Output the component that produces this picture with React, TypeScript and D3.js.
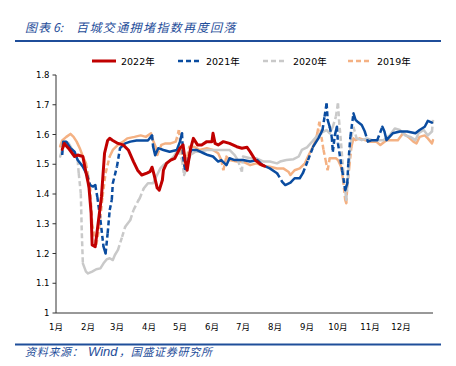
import React from "react";
import * as d3 from "d3";

const monthLabels = ["1月", "2月", "3月", "4月", "5月", "6月", "7月", "8月", "9月", "10月", "11月", "12月"];
const monthStartDays = [0, 31, 59, 90, 120, 151, 181, 212, 243, 273, 304, 334];
const yTicks = [1, 1.1, 1.2, 1.3, 1.4, 1.5, 1.6, 1.7, 1.8];
const seriesNames = ["2022年", "2021年", "2020年", "2019年"];

// [day of year, index]
const y2022: [number, number][] = [
  [6, 1.55], [8, 1.57], [12, 1.554], [18, 1.526], [21, 1.531], [26, 1.526], [28, 1.49], [31, 1.44], [32, 1.42], [34, 1.336],
  [35, 1.229], [38, 1.223], [40, 1.279], [44, 1.39], [47, 1.537], [50, 1.58], [52, 1.587], [55, 1.58], [60, 1.57], [65, 1.565],
  [70, 1.548], [75, 1.509], [79, 1.48], [83, 1.464], [88, 1.47], [91, 1.475], [93, 1.49], [95, 1.464], [98, 1.42], [100, 1.413],
  [103, 1.447], [104, 1.48], [107, 1.503], [111, 1.514], [115, 1.52], [120, 1.554], [123, 1.565], [125, 1.514], [127, 1.48], [130, 1.548],
  [133, 1.587], [137, 1.565], [141, 1.565], [146, 1.576], [151, 1.576], [152, 1.604], [154, 1.57], [157, 1.565], [162, 1.576], [168, 1.57],
  [175, 1.559], [180, 1.554], [185, 1.557], [188, 1.542], [193, 1.514], [198, 1.5], [202, 1.494],
];

const y2021: [number, number][] = [
  [6, 1.531], [7, 1.576], [10, 1.576], [14, 1.554], [18, 1.542], [21, 1.514], [26, 1.492], [30, 1.464], [33, 1.43], [36, 1.425],
  [38, 1.43], [40, 1.39], [43, 1.313], [46, 1.223], [48, 1.2], [50, 1.268], [52, 1.346], [54, 1.38], [55, 1.436], [59, 1.492],
  [62, 1.554], [67, 1.57], [72, 1.576], [78, 1.58], [85, 1.58], [89, 1.58], [93, 1.597], [94, 1.56], [96, 1.53], [99, 1.554],
  [104, 1.548], [110, 1.542], [117, 1.548], [120, 1.576], [122, 1.604], [123, 1.526], [125, 1.48], [128, 1.514], [131, 1.548], [136, 1.548],
  [143, 1.537], [147, 1.531], [152, 1.526], [157, 1.509], [160, 1.514], [165, 1.497], [168, 1.52], [173, 1.514], [181, 1.514], [188, 1.509],
  [195, 1.514], [200, 1.497], [207, 1.486], [214, 1.47], [219, 1.441], [222, 1.43], [227, 1.438], [231, 1.453], [236, 1.453], [239, 1.47],
  [244, 1.514], [249, 1.559], [254, 1.587], [258, 1.615], [260, 1.66], [262, 1.705], [263, 1.649], [265, 1.626], [267, 1.592], [268, 1.542],
  [270, 1.598], [272, 1.626], [273, 1.57], [277, 1.48], [280, 1.413], [282, 1.436], [283, 1.503], [285, 1.592], [288, 1.671], [290, 1.649],
  [292, 1.643], [296, 1.632], [299, 1.61], [302, 1.576], [306, 1.581], [311, 1.581], [316, 1.626], [318, 1.61], [320, 1.581], [326, 1.604],
  [333, 1.61], [340, 1.61], [348, 1.604], [352, 1.615], [357, 1.626], [360, 1.646], [364, 1.64],
];

const y2020: [number, number][] = [
  [4, 1.526], [6, 1.548], [9, 1.576], [12, 1.572], [15, 1.554], [18, 1.537], [21, 1.514], [22, 1.47], [24, 1.402], [25, 1.268],
  [26, 1.167], [29, 1.139], [31, 1.133], [35, 1.139], [39, 1.147], [43, 1.15], [46, 1.167], [49, 1.18], [52, 1.184], [55, 1.178],
  [57, 1.195], [60, 1.212], [64, 1.256], [67, 1.29], [72, 1.313], [75, 1.346], [80, 1.38], [81, 1.385], [85, 1.419], [89, 1.436],
  [94, 1.436], [97, 1.458], [101, 1.486], [104, 1.497], [109, 1.509], [114, 1.526], [118, 1.548], [122, 1.514], [124, 1.464], [127, 1.492],
  [130, 1.531], [135, 1.542], [139, 1.542], [146, 1.548], [152, 1.548], [159, 1.548], [165, 1.548], [168, 1.548], [173, 1.531], [176, 1.514],
  [180, 1.475], [181, 1.526], [188, 1.52], [194, 1.52], [201, 1.509], [207, 1.509], [214, 1.503], [217, 1.509], [223, 1.514], [230, 1.517],
  [235, 1.526], [238, 1.548], [243, 1.557], [248, 1.576], [252, 1.592], [257, 1.606], [262, 1.615], [265, 1.604], [268, 1.626], [271, 1.66],
  [273, 1.705], [274, 1.649], [276, 1.57], [278, 1.48], [280, 1.413], [281, 1.38], [282, 1.425], [284, 1.514], [286, 1.592], [288, 1.626],
  [291, 1.587], [296, 1.581], [301, 1.587], [306, 1.581], [310, 1.581], [317, 1.581], [323, 1.597], [328, 1.62], [333, 1.615], [338, 1.597],
  [343, 1.592], [348, 1.581], [351, 1.604], [356, 1.615], [360, 1.597], [364, 1.61], [365, 1.649],
];

const y2019: [number, number][] = [
  [4, 1.56], [6, 1.58], [10, 1.592], [14, 1.602], [17, 1.592], [20, 1.576], [23, 1.554], [26, 1.526], [29, 1.503], [31, 1.464],
  [33, 1.425], [35, 1.3], [39, 1.229], [42, 1.29], [45, 1.39], [48, 1.47], [52, 1.526], [55, 1.548], [60, 1.565], [65, 1.576],
  [69, 1.587], [76, 1.592], [82, 1.597], [87, 1.592], [92, 1.604], [94, 1.58], [97, 1.554], [98, 1.531], [102, 1.565], [106, 1.57],
  [111, 1.57], [116, 1.576], [119, 1.615], [121, 1.548], [124, 1.492], [127, 1.526], [129, 1.559], [134, 1.559], [139, 1.548], [146, 1.554],
  [152, 1.548], [157, 1.537], [160, 1.514], [162, 1.48], [165, 1.526], [168, 1.514], [175, 1.509], [181, 1.509], [188, 1.497], [194, 1.503],
  [201, 1.494], [207, 1.492], [214, 1.486], [220, 1.486], [225, 1.475], [227, 1.464], [231, 1.48], [236, 1.486], [241, 1.503], [244, 1.526],
  [248, 1.554], [251, 1.576], [253, 1.604], [255, 1.643], [257, 1.592], [259, 1.548], [261, 1.514], [263, 1.48], [265, 1.52], [268, 1.52],
  [271, 1.52], [273, 1.514], [276, 1.492], [278, 1.447], [280, 1.38], [281, 1.369], [282, 1.425], [284, 1.492], [286, 1.559], [288, 1.587],
  [290, 1.581], [294, 1.587], [299, 1.581], [304, 1.576], [310, 1.576], [314, 1.565], [320, 1.581], [327, 1.581], [331, 1.581], [336, 1.604],
  [341, 1.592], [346, 1.576], [349, 1.57], [352, 1.592], [357, 1.597], [360, 1.587], [364, 1.57], [365, 1.581],
];

const seriesData = [y2022, y2021, y2020, y2019];
const seriesColors = ["#c00000", "#0a4ca0", "#c9c9c9", "#f4b183"];
const seriesDashed = [false, true, true, true];
const seriesWidth = [3, 2.5, 2.5, 2.5];

const W = 456;
const H = 366;
const x = d3.scaleLinear().domain([0, 365]).range([56, 433]);
const y = d3.scaleLinear().domain([1, 1.8]).range([313, 75]);

type Run = { solid: boolean; pts: [number, number][] };

function buildRuns(data: [number, number][], dashed: boolean): Run[] {
  const px: [number, number][] = data.map(([d, v]) => [x(d), y(v)]);
  if (!dashed) return [{ solid: true, pts: px }];
  const runs: Run[] = [];
  let cur: [number, number][] = [px[0]];
  for (let i = 1; i < px.length; i++) {
    const len = Math.hypot(px[i][0] - px[i - 1][0], px[i][1] - px[i - 1][1]);
    if (len <= 10) {
      cur.push(px[i]);
    } else {
      if (cur.length > 1) runs.push({ solid: true, pts: cur });
      runs.push({ solid: false, pts: [px[i - 1], px[i]] });
      cur = [px[i]];
    }
  }
  if (cur.length > 1) runs.push({ solid: true, pts: cur });
  return runs;
}

const lineGen = d3.line<[number, number]>().x((p) => p[0]).y((p) => p[1]);

const FONT = "'DejaVu Sans', 'Noto Sans CJK SC', sans-serif";
const CJK = "'Noto Sans CJK SC', sans-serif";
const TITLE_COLOR = "#1f4e9a";

export default function App() {
  const order = [3, 2, 1, 0];
  const legendLineX = [[92, 116], [178, 199], [263, 285], [348, 369]];
  const legendTextX = [121, 206, 293, 377];
  return (
    <svg width={W} height={H} style={{ position: "absolute", left: 0, top: 0, background: "#fff" }}>
      <rect x={0} y={0} width={W} height={H} fill="#fff" />
      <text y={32} fontFamily={CJK} fontStyle="italic" fontSize={12} fill={TITLE_COLOR}>
        <tspan x={25} letterSpacing={1}>图表</tspan>
        <tspan x={53}>6:</tspan>
        <tspan x={76} letterSpacing={1.4}>百城交通拥堵指数再度回落</tspan>
      </text>
      <line x1={15} x2={441} y1={41} y2={41} stroke={TITLE_COLOR} strokeWidth={2} />

      {seriesNames.map((name, i) => (
        <g key={name}>
          <line
            x1={legendLineX[i][0]}
            x2={legendLineX[i][1]}
            y1={61}
            y2={61}
            stroke={seriesColors[i]}
            strokeWidth={seriesWidth[i]}
            strokeDasharray={seriesDashed[i] ? "5,3" : undefined}
          />
          <text x={legendTextX[i]} y={64.5} fontFamily={FONT} fontSize={9.5} fill="#000">
            {name}
          </text>
        </g>
      ))}

      <line x1={56} x2={56} y1={y(1.8)} y2={y(1)} stroke="#333" strokeWidth={1} />
      {yTicks.map((t) => (
        <g key={t}>
          <line x1={52.5} x2={56} y1={y(t)} y2={y(t)} stroke="#333" strokeWidth={1} />
          <text x={49.5} y={y(t) + 3} textAnchor="end" fontFamily={FONT} fontSize={8.5} fill="#000">
            {String(t)}
          </text>
        </g>
      ))}

      {order.map((si) =>
        buildRuns(seriesData[si], seriesDashed[si]).map((r, k) => (
          <path
            key={si + "-" + k}
            d={lineGen(r.pts) || ""}
            fill="none"
            stroke={seriesColors[si]}
            strokeWidth={seriesWidth[si]}
            strokeLinejoin="round"
            strokeLinecap={r.solid ? "round" : "butt"}
            strokeDasharray={r.solid ? undefined : "5,3"}
          />
        ))
      )}

      <line x1={56} x2={433} y1={y(1)} y2={y(1)} stroke="#333" strokeWidth={1} />
      {monthLabels.map((m, i) => (
        <text key={m} x={x(monthStartDays[i])} y={330} textAnchor="middle" fontFamily={FONT} fontSize={8.5} fill="#000">
          {m}
        </text>
      ))}

      <line x1={15} x2={441} y1={344.5} y2={344.5} stroke={TITLE_COLOR} strokeWidth={1.8} />
      <text y={356} fontFamily={CJK} fontStyle="italic" fontSize={11} fill={TITLE_COLOR}>
        <tspan x={25} letterSpacing={0.7}>资料来源：</tspan>
        <tspan x={88} fontFamily="'Liberation Sans', sans-serif" fontSize={13}>Wind</tspan>
        <tspan x={119} letterSpacing={0.7}>，国盛证券研究所</tspan>
      </text>
    </svg>
  );
}
